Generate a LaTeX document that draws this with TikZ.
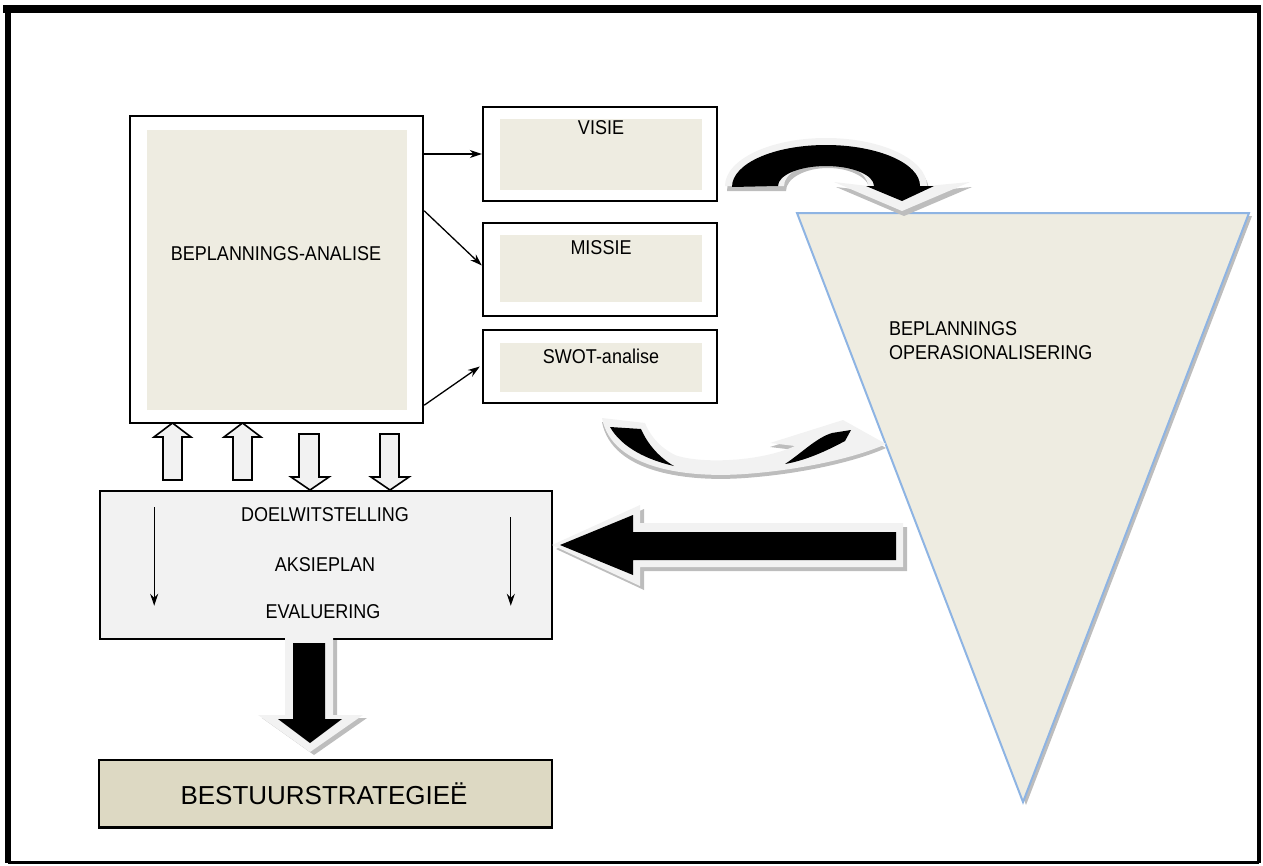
\documentclass[tikz,border=0pt]{standalone}
\usepackage{fontspec}
\setmainfont{Liberation Sans}
\newfontfamily\diagfont[FakeStretch=0.9]{Liberation Sans}
\usetikzlibrary{arrows.meta}

\definecolor{beige}{HTML}{EEECE1}
\definecolor{lightfill}{HTML}{F2F2F2}
\definecolor{stratfill}{HTML}{DDD9C3}
\definecolor{edgeblue}{HTML}{8EB4E3}
\definecolor{shadowgray}{HTML}{BDBDBD}

% outline of the upper curved arrow (pale rim)
\newcommand{\upperArcPale}{(725,186) .. controls (725,159.5) and (770.2,138) .. (826,138)
  .. controls (881.8,138) and (927,159.5) .. (927,186)
  -- (970,182) -- (902,211) -- (834,182) -- (868,186)
  .. controls (868,173.3) and (849.2,163) .. (826,163)
  .. controls (802.8,163) and (784,173.3) .. (784,186) -- cycle}
% solid core of the upper curved arrow
\newcommand{\upperArcInk}{(732,187) .. controls (732,163.4) and (774.1,145) .. (826,145)
  .. controls (877.9,145) and (920,163.4) .. (920,186)
  -- (934,186) -- (902,201) -- (866,186) -- (874,186)
  .. controls (874,175) and (852.5,166) .. (826,166)
  .. controls (799.5,166) and (778,175) .. (778,186) -- cycle}
% outline of the lower curved arrow
\newcommand{\lowerArcPale}{(602,418) .. controls (612,470) and (690,478) .. (745,474)
  .. controls (800,470) and (855,458) .. (886,444)
  -- (843,420) -- (770,443) -- (795,446)
  .. controls (760,462) and (700,464) .. (675,455)
  .. controls (655,445) and (648,430) .. (645,423) -- cycle}
% big left arrow
\newcommand{\leftArrowPale}{(903,523) -- (640,523) -- (640,505) -- (552,545) -- (640,586) -- (640,567) -- (903,567) -- cycle}
\newcommand{\leftArrowInk}{(896,532) -- (633,532) -- (633,515) -- (560,545) -- (633,575) -- (633,560) -- (896,560) -- cycle}
% down arrow towards the strategy box
\newcommand{\downArrowPale}{(285,637) -- (285,715) -- (258,715) -- (310,752) -- (363,715) -- (333,715) -- (333,637) -- cycle}
\newcommand{\downArrowInk}{(293,643) -- (293,719) -- (278,719) -- (310,743) -- (342,719) -- (325,719) -- (325,643) -- cycle}

\begin{document}
\begin{tikzpicture}[x=1pt,y=-1pt,
  outerbox/.style={draw=black, line width=2.4pt, fill=white, inner sep=0pt},
  innerfill/.style={fill=beige, draw=none, inner sep=0pt},
  lbl/.style={font=\diagfont\fontsize{20}{24}\selectfont, inner sep=0pt, text=black},
  pointer/.style={-{Stealth[length=12pt,width=8pt]}, line width=1.3pt},
  hollow/.style={draw=black, line width=1.6pt, fill=lightfill, line join=miter},
  dropshade/.style={fill=shadowgray},
  palerim/.style={fill=lightfill},
  ink/.style={fill=black}]

\useasboundingbox (0,0) rectangle (1263,865);

% page frame
\fill[black] (3,5) rectangle (1261,13);
\draw[line width=6pt] (8,9) -- (8,863);
\draw[line width=4pt] (1259,9) -- (1259,863);
\draw[line width=3pt] (8,862.5) -- (1259,862.5);

% operationalisation triangle
\coordinate (tl) at (797,213);
\coordinate (tr) at (1249,213);
\coordinate (tb) at (1023,802);
\fill[shadowgray] ([shift={(3,3)}]tl) -- ([shift={(3,3)}]tr) -- ([shift={(3,3)}]tb) -- cycle;
\filldraw[fill=beige, draw=edgeblue, line width=2pt, line join=miter] (tl) -- (tr) -- (tb) -- cycle;
\node[lbl, anchor=west] (tri1) at (889,329) {BEPLANNINGS};
\node[lbl, anchor=west] (tri2) at (889,353) {OPERASIONALISERING};

% planning analysis box
\node[outerbox, minimum width=293pt, minimum height=307pt] (ana) at (276.5,269.5) {};
\node[innerfill, minimum width=260pt, minimum height=280pt] (anain) at (277,270) {};
\node[lbl] (analbl) at (276,254) {BEPLANNINGS-ANALISE};

% vision, mission, SWOT boxes
\node[outerbox, minimum width=234pt, minimum height=94pt] (visie) at (600,154) {};
\node[innerfill, minimum width=202pt, minimum height=71pt] (visiein) at (601,154.5) {};
\node[lbl] (visielbl) at (601,128) {VISIE};

\node[outerbox, minimum width=234pt, minimum height=93pt] (missie) at (600,269.5) {};
\node[innerfill, minimum width=202pt, minimum height=67pt] (missiein) at (601,268.5) {};
\node[lbl] (missielbl) at (601,248) {MISSIE};

\node[outerbox, minimum width=234pt, minimum height=73pt] (swot) at (600,366.5) {};
\node[innerfill, minimum width=202pt, minimum height=49pt] (swotin) at (601,367.5) {};
\node[lbl] (swotlbl) at (601,356) {SWOT-analise};

\draw[pointer] (ana.east |- visie.west) -- (visie.west);
\draw[pointer] ([yshift=-96pt]ana.north east) -- ([yshift=4pt]missie.west);
\draw[pointer] ([yshift=19pt]ana.south east) -- ([xshift=-2pt]swot.west);

% goals / action plan / evaluation box
\node[draw=black, line width=1.6pt, fill=lightfill, minimum width=452pt, minimum height=148pt, inner sep=0pt] (goal) at (326,565) {};
\node[lbl] (goal1) at (325,515) {DOELWITSTELLING};
\node[lbl] (goal2) at (325,565) {AKSIEPLAN};
\node[lbl] (goal3) at (323,612) {EVALUERING};
\draw[pointer] ([xshift=55pt,yshift=-17pt]goal.north west) -- ([xshift=55pt,yshift=34pt]goal.south west);
\draw[pointer] ([xshift=-42pt,yshift=-27pt]goal.north east) -- ([xshift=-42pt,yshift=34pt]goal.south east);

% hollow arrows between analysis and goals
\path[hollow] (163,480) -- (163,437) -- (154,437) -- (172.5,423) -- (191,437) -- (182,437) -- (182,480) -- cycle;
\path[hollow] (233,480) -- (233,437) -- (224,437) -- (242.5,423) -- (261,437) -- (252,437) -- (252,480) -- cycle;
\path[hollow] (299,434) -- (299,477) -- (291,477) -- (310,490) -- (329,477) -- (319,477) -- (319,434) -- cycle;
\path[hollow] (380,434) -- (380,477) -- (371,477) -- (390,490) -- (409,477) -- (399,477) -- (399,434) -- cycle;

% strategy box
\node[draw=black, line width=1.5pt, fill=stratfill, minimum width=453pt, minimum height=67pt, inner sep=0pt] (strat) at (325.5,793.5) {};
\draw[line width=3pt] (strat.south west) -- (strat.south east);
\node[font=\fontsize{26}{30}\selectfont, inner sep=0pt] (stratlbl) at (324,794) {BESTUURSTRATEGIEË};

% upper curved arrow
\fill[dropshade, shift={(2,5)}] \upperArcPale;
\fill[palerim] \upperArcPale;
\fill[ink] \upperArcInk;

% lower curved arrow
\fill[dropshade, shift={(0,4)}] \lowerArcPale;
\fill[palerim] \lowerArcPale;
\fill[ink] (610,427) -- (641,429) .. controls (648,445) and (660,458) .. (674,466)
  .. controls (648,460) and (622,448) .. (610,427) -- cycle;
\fill[ink] (785,464) .. controls (803,452) and (816,438) .. (832,433) -- (851,430)
  -- (845,441) .. controls (830,449) and (808,460) .. (785,464) -- cycle;

% big arrow from the triangle back to the goals
\fill[dropshade, shift={(4,4)}] \leftArrowPale;
\fill[palerim] \leftArrowPale;
\fill[ink] \leftArrowInk;

% arrow down to the strategy box
\fill[dropshade, shift={(4,3)}] \downArrowPale;
\fill[palerim] \downArrowPale;
\fill[ink] \downArrowInk;

\end{tikzpicture}
\end{document}
